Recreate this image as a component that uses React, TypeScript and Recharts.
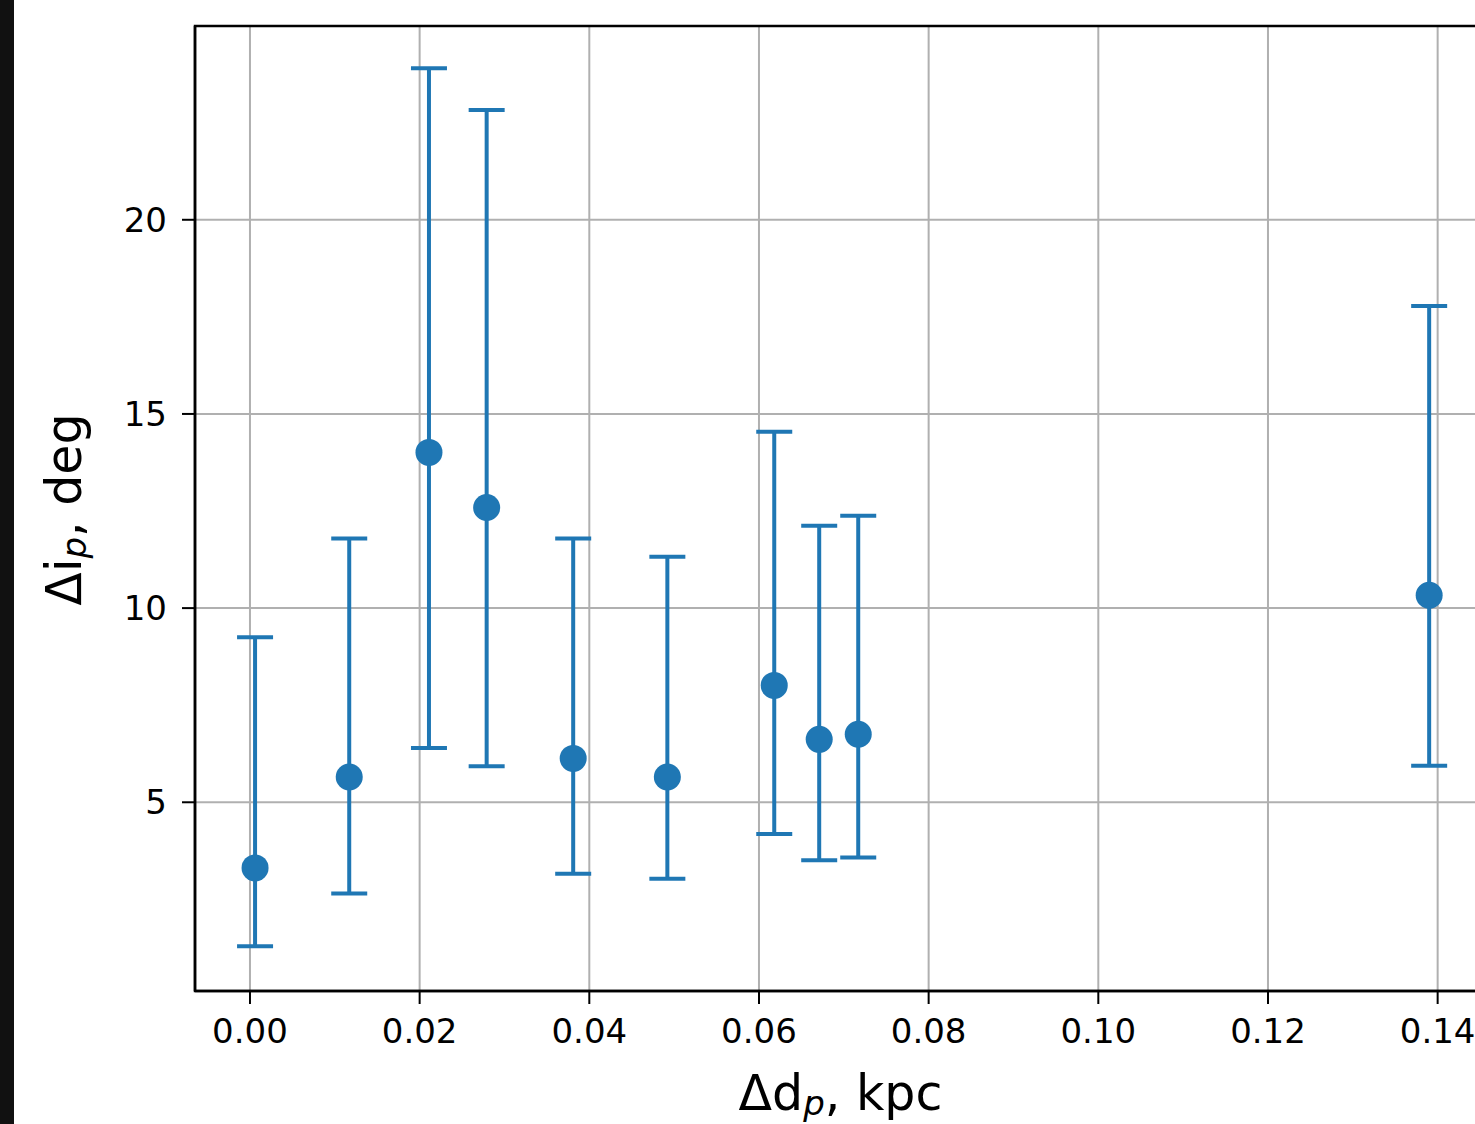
import React from 'react';
import { ComposedChart, Scatter, ErrorBar, XAxis, YAxis, CartesianGrid, ReferenceArea } from 'recharts';

// Δd_p (kpc) of each point
const distances = [0.0006, 0.0117, 0.0211, 0.0279, 0.0381, 0.0492, 0.0618, 0.0671, 0.0717, 0.139];
// Δi_p (deg) of each point
const inclinations = [3.31, 5.65, 14.01, 12.59, 6.13, 5.65, 8.01, 6.62, 6.75, 10.33];
// lower / upper ends of the error bars (deg)
const lowerBounds = [1.29, 2.65, 6.4, 5.93, 3.16, 3.03, 4.18, 3.51, 3.58, 5.94];
const upperBounds = [9.25, 11.79, 23.9, 22.83, 11.79, 11.32, 14.54, 12.12, 12.38, 17.78];

const xTicks = [0, 0.02, 0.04, 0.06, 0.08, 0.1, 0.12, 0.14];
const yTicks = [5, 10, 15, 20];
const xDomain: [number, number] = [-0.00648, 0.1457];
const yDomain: [number, number] = [0.14, 24.99];

const BLUE = '#1f77b4';
const FONT = 'DejaVu Sans';

const data = distances.map((d, i) => ({
  x: d,
  y: inclinations[i],
  err: [inclinations[i] - lowerBounds[i], upperBounds[i] - inclinations[i]],
}));

const XLabel = (props: any) => {
  const vb = props.viewBox || { x: 0, y: 0, width: 0, height: 0 };
  const cx = vb.x + vb.width / 2;
  const y = vb.y + 118.5;
  return (
    <text x={cx} y={y} textAnchor="middle" fontSize={49} fill="#000" fontFamily={FONT}>
      <tspan>Δd</tspan>
      <tspan fontStyle="italic" fontSize={34} dy={5}>p</tspan>
      <tspan dy={-5}>, kpc</tspan>
    </text>
  );
};

const YLabel = (props: any) => {
  const vb = props.viewBox || { x: 0, y: 0, width: 0, height: 0 };
  const x = vb.x + 81;
  const cy = vb.y + vb.height / 2 + 1;
  return (
    <text x={x} y={cy} transform={`rotate(-90, ${x}, ${cy})`} textAnchor="middle" fontSize={49} fill="#000" fontFamily={FONT}>
      <tspan>Δi</tspan>
      <tspan fontStyle="italic" fontSize={34} dy={5}>p</tspan>
      <tspan dy={-5}>, deg</tspan>
    </text>
  );
};

const Dot = (p: any) => <circle cx={p.cx} cy={p.cy} r={13.5} fill={BLUE} />;

export default function App() {
  return (
    <div style={{ position: 'fixed', left: 0, top: 0, width: 1475, height: 1124, overflow: 'hidden', background: '#fff' }}>
      <div style={{ position: 'absolute', left: 0, top: 0 }}>
        <ComposedChart width={1500} height={1124} data={data} margin={{ top: 26, right: 14, bottom: 0, left: 0 }}>
          <CartesianGrid stroke="#b0b0b0" strokeWidth={2} />
          <XAxis
            dataKey="x"
            type="number"
            domain={xDomain}
            allowDataOverflow
            ticks={xTicks}
            interval={0}
            tickFormatter={(v: number) => v.toFixed(2)}
            height={133}
            tickSize={13}
            tickMargin={15}
            tick={{ fontSize: 34, fill: '#000', fontFamily: FONT }}
            tickLine={{ stroke: '#000', strokeWidth: 2 }}
            axisLine={{ stroke: '#000', strokeWidth: 2.5 }}
            label={XLabel}
          />
          <YAxis
            dataKey="y"
            type="number"
            domain={yDomain}
            allowDataOverflow
            ticks={yTicks}
            interval={0}
            width={195}
            tickSize={13}
            tickMargin={15}
            tick={{ fontSize: 34, fill: '#000', fontFamily: FONT }}
            tickLine={{ stroke: '#000', strokeWidth: 2 }}
            axisLine={{ stroke: '#000', strokeWidth: 2.5 }}
            label={YLabel}
          />
          <ReferenceArea
            x1={xDomain[0]}
            x2={xDomain[1]}
            y1={yDomain[0]}
            y2={yDomain[1]}
            fill="none"
            fillOpacity={0}
            stroke="#000"
            strokeWidth={2.5}
            ifOverflow="visible"
          />
          <Scatter dataKey="y" fill={BLUE} shape={Dot} isAnimationActive={false}>
            <ErrorBar dataKey="err" direction="y" width={18} stroke={BLUE} strokeWidth={4} isAnimationActive={false} />
          </Scatter>
        </ComposedChart>
      </div>
      <div style={{ position: 'absolute', left: 0, top: 0, width: 14, height: 1124, background: '#111' }} />
    </div>
  );
}
